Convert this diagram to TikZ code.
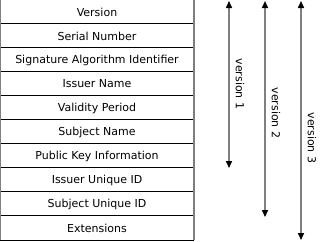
\documentclass[tikz,border=0pt]{standalone}
\usepackage{fontspec}
\setmainfont{DejaVu Sans}
\usetikzlibrary{arrows.meta}
\begin{document}
\begin{tikzpicture}[x=1pt,y=-1pt,
  field/.style={minimum width=193pt,minimum height=24pt,inner sep=0pt,font=\fontsize{11}{13}\selectfont},
  hline/.style={black,line width=1pt},
  vline/.style={gray,line width=2pt},
  verarrow/.style={gray,line width=1.5pt,{Triangle[width=6pt,length=7pt,color=black]}-{Triangle[width=6pt,length=7pt,color=black]}},
  verlabel/.style={rotate=-90,font=\fontsize{11}{13}\selectfont}]
\useasboundingbox (0,0) rectangle (320,241);
\foreach \t [count=\i] in {Version,Serial Number,Signature Algorithm Identifier,Issuer Name,Validity Period,Subject Name,Public Key Information,Issuer Unique ID,Subject Unique ID,Extensions}{
  \node[field] (r\i) at (97,{24*\i-12}) {\t};
}
\foreach \i in {1,...,10}{
  \draw[hline] (r\i.north west) -- (r\i.north east);
}
\draw[hline] (r10.south west) -- (r10.south east);
\draw[vline] (r1.north west) -- (r10.south west);
\draw[vline] (r1.north east) -- (r10.south east);
\coordinate (a1t) at (229,1);
\coordinate (a1b) at (229,168);
\coordinate (a2t) at (265,1);
\coordinate (a2b) at (265,217);
\coordinate (a3t) at (301,1);
\coordinate (a3b) at (301,240);
\draw[verarrow] (a1t) -- (a1b);
\draw[verarrow] (a2t) -- (a2b);
\draw[verarrow] (a3t) -- (a3b);
\node[verlabel] (l1) at (240,84) {version 1};
\node[verlabel] (l2) at (276,113) {version 2};
\node[verlabel] (l3) at (312,138) {version 3};
\end{tikzpicture}
\end{document}
